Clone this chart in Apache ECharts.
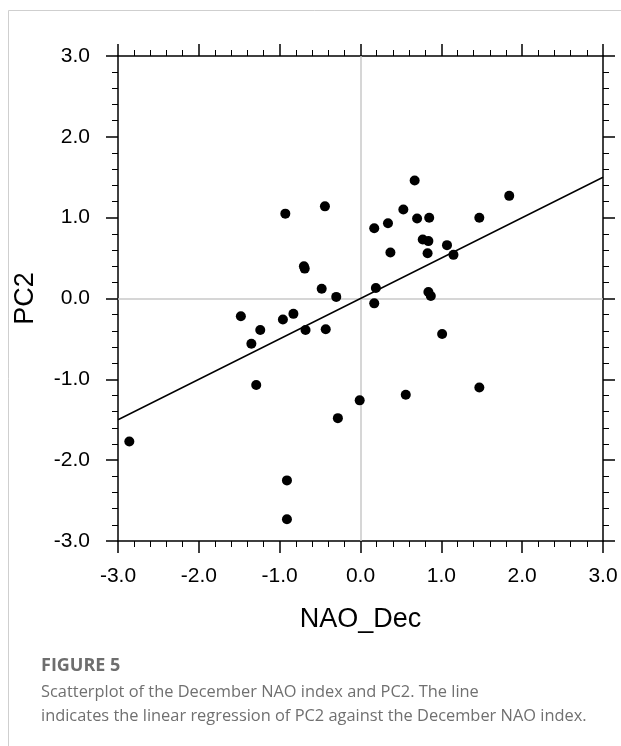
<!DOCTYPE html>
<html>
<head>
<meta charset="utf-8">
<script src="https://cdn.jsdelivr.net/npm/echarts@6/dist/echarts.min.js"></script>
<style>
  html, body { margin: 0; padding: 0; background: #fff; }
  #chart { width: 621px; height: 746px; }
</style>
</head>
<body>
<div id="chart"></div>
<script>
// scatter values
const naoDec = [-0.93, -0.44, -0.70, -0.69, -0.48, -0.30, 0.67, 1.84, 0.53, 0.70,
  0.85, 1.47, 0.34, 0.17, 0.77, 0.84, 1.07, 0.37, 0.83, 1.15,
  0.19, 0.84, 0.87, 0.17, -1.48, -0.96, -0.83, -1.24, -0.68, -0.43,
  -1.35, -1.29, -0.28, -2.86, -0.91, -0.91, -0.01, 1.01, 0.56, 1.47];
const pc2 = [1.05, 1.14, 0.40, 0.37, 0.12, 0.02, 1.46, 1.27, 1.10, 0.99,
  1.00, 1.00, 0.93, 0.87, 0.73, 0.71, 0.66, 0.57, 0.56, 0.54,
  0.13, 0.08, 0.03, -0.06, -0.22, -0.26, -0.19, -0.39, -0.39, -0.38,
  -0.56, -1.07, -1.48, -1.77, -2.25, -2.73, -1.26, -0.44, -1.19, -1.10];
// regression line end points
const fitX = [-3, 3];
const fitY = [-1.5, 1.5];
const captionTitle = 'FIGURE 5';
const captionLines = [
  'Scatterplot of the December NAO index and PC2. The line',
  'indicates the linear regression of PC2 against the December NAO index.'
];

const chart = echarts.init(document.getElementById('chart'));

const axisFont = 'Liberation Sans, Arial, Helvetica, sans-serif';
const fmt = v => v.toFixed(1);

function frameAxis(extra) {
  return Object.assign({
    type: 'value',
    min: -3,
    max: 3,
    interval: 1,
    axisLine: { show: true, onZero: false, lineStyle: { color: '#000', width: 1.5 } },
    axisTick: { show: true, inside: false, length: 12, lineStyle: { color: '#000', width: 1.5 } },
    minorTick: { show: true, splitNumber: 5, length: 6, lineStyle: { color: '#000', width: 1 } },
    splitLine: { show: false },
    axisLabel: { show: false }
  }, extra);
}

const labelStyle = { show: true, color: '#000', fontSize: 21, fontFamily: axisFont, formatter: fmt };

chart.setOption({
  animation: false,
  grid: { left: 118, right: 18, top: 56, bottom: 205 },
  xAxis: [
    frameAxis({
      position: 'bottom',
      name: 'NAO_Dec',
      nameLocation: 'middle',
      nameGap: 65,
      nameTextStyle: { color: '#000', fontSize: 27, fontFamily: axisFont },
      axisLabel: Object.assign({ margin: 25 }, labelStyle)
    }),
    frameAxis({ position: 'top' })
  ],
  yAxis: [
    frameAxis({
      position: 'left',
      name: 'PC2',
      nameLocation: 'middle',
      nameGap: 79,
      nameTextStyle: { color: '#000', fontSize: 27, fontFamily: axisFont },
      axisLabel: Object.assign({ margin: 28 }, labelStyle)
    }),
    frameAxis({ position: 'right' })
  ],
  graphic: [
    { type: 'line', shape: { x1: 8.5, y1: 10.5, x2: 621, y2: 10.5 }, style: { stroke: '#cfcfcf', lineWidth: 1 } },
    { type: 'line', shape: { x1: 8.5, y1: 10.5, x2: 8.5, y2: 746 }, style: { stroke: '#cfcfcf', lineWidth: 1 } },
    {
      type: 'text', left: 41, top: 657,
      style: { text: captionTitle, fill: '#6e6e6e', font: 'bold 18px "Open Sans", sans-serif' }
    },
    {
      type: 'text', left: 41, top: 680,
      style: { text: captionLines.join('\n'), fill: '#707070', font: '16.4px "Open Sans", sans-serif', lineHeight: 24 }
    }
  ],
  series: [
    {
      type: 'scatter',
      xAxisIndex: 0,
      yAxisIndex: 0,
      symbolSize: 10,
      itemStyle: { color: '#000', opacity: 1 },
      data: naoDec.map((x, i) => [x, pc2[i]]),
      markLine: {
        silent: true,
        symbol: 'none',
        label: { show: false },
        lineStyle: { color: '#c8c8c8', width: 1.5, type: 'solid' },
        data: [{ xAxis: 0 }, { yAxis: 0 }],
        z: 1
      },
      z: 3
    },
    {
      type: 'line',
      xAxisIndex: 0,
      yAxisIndex: 0,
      showSymbol: false,
      lineStyle: { color: '#000', width: 1.5 },
      data: fitX.map((x, i) => [x, fitY[i]]),
      z: 4
    }
  ]
});
</script>
</body>
</html>
